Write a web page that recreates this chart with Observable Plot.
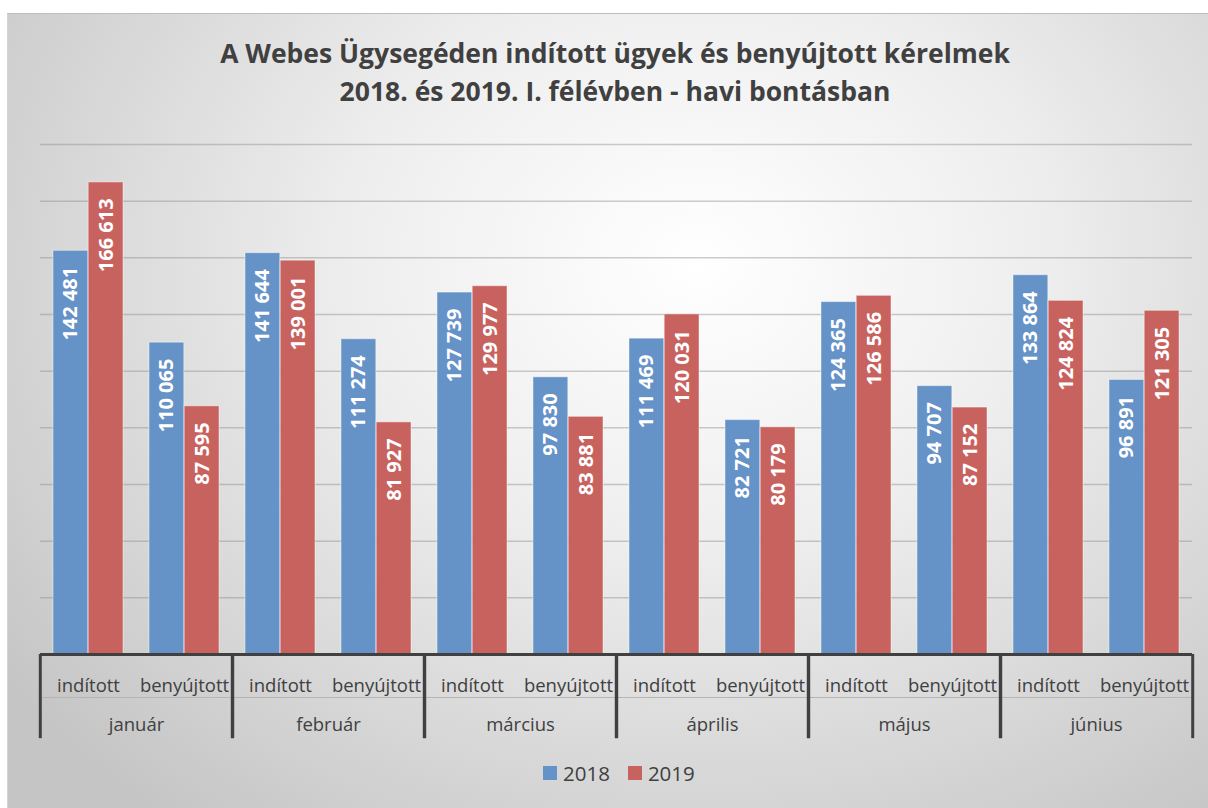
<!DOCTYPE html>
<html>
<head>
<meta charset="utf-8">
<script src="https://cdn.jsdelivr.net/npm/d3@7"></script>
<script src="https://cdn.jsdelivr.net/npm/@observablehq/plot@0.6"></script>
<style>
  html, body { margin: 0; padding: 0; }
  body { width: 1208px; height: 808px; overflow: hidden; position: relative; background: #ffffff; font-family: "Open Sans", sans-serif; }
  #frame { position: absolute; left: 7px; top: 13px; width: 1230px; height: 830px;
    border-top: 1px solid #bdbdbd; border-left: 1px solid #d4d4d4;
    background: radial-gradient(ellipse 70% 85% at 56% 30%, #ffffff 0%, #eeeeee 40%, #c5c5c5 100%); }
  #title { position: absolute; left: 0; top: 34px; width: 1230px; text-align: center; font-weight: 700;
    font-size: 26.5px; line-height: 38px; color: #404040; }
  #chart { position: absolute; left: 0; top: 120px; }
  #legend { position: absolute; left: 543px; top: 759px; display: flex; align-items: center; font-size: 20.5px; color: #404040; }
  #legend .sw { width: 14px; height: 14px; display: inline-block; margin-right: 6px; }
  #legend .item { display: flex; align-items: center; margin-right: 18px; }
</style>
</head>
<body>
<div id="frame"></div>
<div id="title">A Webes Ügysegéden indított ügyek és benyújtott kérelmek<br>2018. és 2019. I. félévben - havi bontásban</div>
<div id="chart"></div>
<div id="legend"></div>
<script>
// ---- data ----
const months = ["január", "február", "március", "április", "május", "június"];
const types = ["indított", "benyújtott"];
const years = ["2018", "2019"];
const inditott2018   = [142481, 141644, 127739, 111469, 124365, 133864];
const inditott2019   = [166613, 139001, 129977, 120031, 126586, 124824];
const benyujtott2018 = [110065, 111274, 97830, 82721, 94707, 96891];
const benyujtott2019 = [87595, 81927, 83881, 80179, 87152, 121305];
const yMax = 180000;
const yTicks = d3.range(20000, yMax + 1, 20000);

const colors = ["#6592c7", "#c7625f"];

function rowsFor(year, ind, ben) {
  const out = [];
  months.forEach((m, i) => {
    out.push({month: m, type: types[0], year, value: ind[i]});
    out.push({month: m, type: types[1], year, value: ben[i]});
  });
  return out;
}
const rows2018 = rowsFor("2018", inditott2018, benyujtott2018);
const rows2019 = rowsFor("2019", inditott2019, benyujtott2019);

const fmt = v => d3.format(",")(v).replace(/,/g, " ");

// ---- layout ----
const W = 1208, H = 624, mL = 37, mR = 14, mT = 24, mB = 90;
const facetW = (W - mL - mR) / months.length;
const pad = 0.27;
const step = facetW / 2;          // paddingInner = pad, paddingOuter = pad/2
const bw = step * (1 - pad);
const half = bw / 2;
const axisDepth = 29700;          // how far the category separators extend below zero (y units)

const textFont = "'Open Sans', sans-serif";

const chart = Plot.plot({
  width: W, height: H,
  marginTop: mT, marginBottom: mB, marginLeft: mL, marginRight: mR,
  style: {fontFamily: textFont, background: "transparent", color: "#404040", overflow: "visible"},
  fx: {domain: months, padding: 0, axis: null, label: null},
  x: {domain: types, paddingInner: pad, paddingOuter: pad / 2, axis: null, label: null},
  y: {domain: [0, yMax], axis: null, label: null},
  color: {domain: years, range: colors},
  marks: [
    Plot.ruleY(yTicks, {stroke: "#8f8f8f", strokeOpacity: 0.45, strokeWidth: 1.5}),
    Plot.barY(rows2018, {fx: "month", x: "type", y: "value", fill: "year", insetRight: half,
      stroke: "#ffffff", strokeOpacity: 0.45, strokeWidth: 1}),
    Plot.barY(rows2019, {fx: "month", x: "type", y: "value", fill: "year", insetLeft: half,
      stroke: "#ffffff", strokeOpacity: 0.45, strokeWidth: 1}),
    Plot.text(rows2018, {fx: "month", x: "type", y: "value", text: d => fmt(d.value), rotate: -90,
      textAnchor: "end", dx: -half / 2, dy: 16, fill: "white", fontWeight: "bold", fontSize: 20}),
    Plot.text(rows2019, {fx: "month", x: "type", y: "value", text: d => fmt(d.value), rotate: -90,
      textAnchor: "end", dx: half / 2, dy: 16, fill: "white", fontWeight: "bold", fontSize: 20}),
    Plot.ruleY([0], {dy: 43, stroke: "#b5b5b5", strokeWidth: 1}),
    Plot.ruleY([0], {stroke: "#404040", strokeWidth: 3}),
    Plot.ruleX([types[0]], {x: d => d, y1: 0, y2: -axisDepth, dx: -step / 2, stroke: "#404040", strokeWidth: 3}),
    Plot.ruleX([types[1]], {x: d => d, y1: 0, y2: -axisDepth, dx: step / 2, stroke: "#404040", strokeWidth: 3}),
    Plot.text(types, {x: d => d, frameAnchor: "bottom", dy: 37, fontSize: 18.5, fill: "#404040"}),
    Plot.text(months, {fx: d => d, frameAnchor: "bottom", dy: 76, fontSize: 18.5, fill: "#404040"})
  ]
});
document.getElementById("chart").appendChild(chart);

// ---- legend ----
const legend = document.getElementById("legend");
years.forEach((y, i) => {
  const item = document.createElement("span");
  item.className = "item";
  const sw = document.createElement("span");
  sw.className = "sw";
  sw.style.background = colors[i];
  item.appendChild(sw);
  item.appendChild(document.createTextNode(y));
  legend.appendChild(item);
});
</script>
</body>
</html>
